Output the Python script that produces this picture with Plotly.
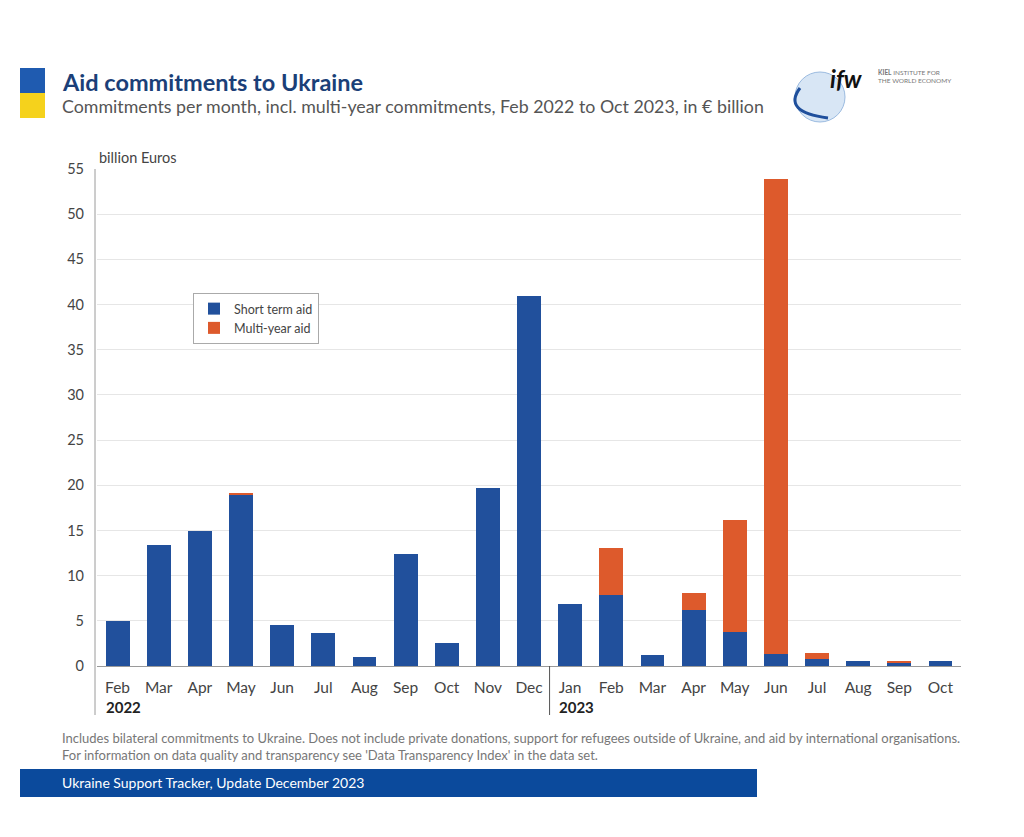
import plotly.graph_objects as go

months = ["Feb", "Mar", "Apr", "May", "Jun", "Jul", "Aug", "Sep", "Oct", "Nov", "Dec",
          "Jan", "Feb", "Mar", "Apr", "May", "Jun", "Jul", "Aug", "Sep", "Oct"]
short_term = [5.0, 13.4, 14.9, 19.0, 4.5, 3.65, 1.0, 12.4, 2.55, 19.7, 41.0,
              6.85, 7.85, 1.2, 6.2, 3.75, 1.3, 0.8, 0.55, 0.3, 0.6]
multi_year = [0, 0, 0, 0.1, 0, 0, 0, 0, 0, 0, 0,
              0, 5.2, 0, 1.85, 12.4, 52.6, 0.65, 0, 0.25, 0]
y_ticks = [0, 5, 10, 15, 20, 25, 30, 35, 40, 45, 50, 55]

OFF = 8  # page body margin
W, H = 1024 - OFF, 837 - OFF
L, R, T, B = 97, 961, 169, 666  # in reference page pixels

def px(x):
    return (x - L) / (R - L)

def py(y):
    return (B - y) / (B - T)

idx = list(range(len(months)))
BLUE = "#21509c"
ORANGE = "#dd5a2c"
FONT = "Lato"

fig = go.Figure()
fig.add_bar(x=idx, y=short_term, name="Short term aid", marker_color=BLUE,
            marker_line_width=0)
fig.add_bar(x=idx, y=multi_year, name="Multi-year aid", marker_color=ORANGE,
            marker_line_width=0)

fig.update_layout(
    width=W, height=H,
    margin=dict(l=L - OFF, r=1024 - R, t=T - OFF, b=837 - B),
    barmode="stack", bargap=0.42,
    plot_bgcolor="white", paper_bgcolor="white",
    font=dict(family=FONT, color="#444"),
    legend=dict(x=px(193), y=py(293), xanchor="left", yanchor="top",
                bordercolor="#aaaaaa", borderwidth=1, bgcolor="white",
                font=dict(size=12.5, color="#444"), tracegroupgap=8,
                traceorder="normal"),
    xaxis=dict(range=[-0.5, len(months) - 0.5], tickvals=idx, ticktext=months,
               showgrid=False, showline=False, ticks="", ticklabelstandoff=10,
               tickfont=dict(size=15.5, color="#444", family=FONT), fixedrange=True),
    yaxis=dict(range=[0, 55], tickvals=y_ticks, showgrid=True, gridcolor="#e6e6e6",
               gridwidth=1, zeroline=True, zerolinecolor="#9a9a9a", zerolinewidth=1,
               showline=False, ticks="", ticklabelstandoff=12,
               tickfont=dict(size=14.5, color="#444", family=FONT)),
)

shapes = []
shapes.append(dict(type="line", xref="paper", yref="paper", x0=px(95), x1=px(95),
                   y0=1.0, y1=py(715), line=dict(color="#9a9a9a", width=1)))
shapes.append(dict(type="line", xref="x", yref="paper", x0=10.5, x1=10.5,
                   y0=0, y1=py(715), line=dict(color="#555", width=1)))
shapes.append(dict(type="rect", xref="paper", yref="paper", x0=px(20), x1=px(45),
                   y0=py(68), y1=py(93), fillcolor="#1f5bb0", line_width=0))
shapes.append(dict(type="rect", xref="paper", yref="paper", x0=px(20), x1=px(45),
                   y0=py(93), y1=py(118), fillcolor="#f5d21c", line_width=0))
shapes.append(dict(type="rect", xref="paper", yref="paper", x0=px(20), x1=px(757),
                   y0=py(769), y1=py(797), fillcolor="#0b4a9c", line_width=0))
shapes.append(dict(type="circle", xref="paper", yref="paper", x0=px(795), x1=px(845),
                   y0=py(72), y1=py(122), fillcolor="#d8e6f5",
                   line=dict(color="#9bbbe0", width=1)))
shapes.append(dict(type="path", xref="paper", yref="paper",
                   path=f"M {px(800)},{py(88)} Q {px(782)},{py(112)} {px(828)},{py(118)}",
                   line=dict(color="#1f4f9c", width=3)))
fig.update_layout(shapes=shapes)

ann = []
ann.append(dict(text="<b>Aid commitments to Ukraine</b>", x=px(60), y=py(82),
                font=dict(size=23.5, color="#1b3f78", family=FONT)))
ann.append(dict(text="Commitments per month, incl. multi-year commitments, Feb 2022 to Oct 2023, in € billion",
                x=px(60), y=py(106), font=dict(size=17.8, color="#555", family=FONT)))
ann.append(dict(text="billion Euros", x=px(97), y=py(157),
                font=dict(size=14.5, color="#444", family=FONT)))
ann.append(dict(text="<b>2022</b>", x=px(104), y=py(707),
                font=dict(size=15, color="#222", family=FONT)))
ann.append(dict(text="<b>2023</b>", x=px(557), y=py(707),
                font=dict(size=15, color="#222", family=FONT)))
ann.append(dict(text="Includes bilateral commitments to Ukraine. Does not include private donations, support for refugees outside of Ukraine, and aid by international organisations.<br>For information on data quality and transparency see 'Data Transparency Index' in the data set.",
                x=px(60), y=py(746), align="left",
                font=dict(size=13, color="#777", family=FONT)))
ann.append(dict(text="Ukraine Support Tracker, Update December 2023", x=px(60), y=py(783),
                font=dict(size=14, color="white", family=FONT)))
ann.append(dict(text="<b><i>ifw</i></b>", x=px(828), y=py(78),
                font=dict(size=24, color="#111", family=FONT)))
ann.append(dict(text="<b>KIEL</b> INSTITUTE FOR<br>THE WORLD ECONOMY", x=px(876), y=py(77),
                align="left", font=dict(size=6.5, color="#777", family=FONT)))
for a in ann:
    a.update(xref="paper", yref="paper", xanchor="left", yanchor="middle",
             showarrow=False)
fig.update_layout(annotations=ann)

fig.write_html("out.html")
